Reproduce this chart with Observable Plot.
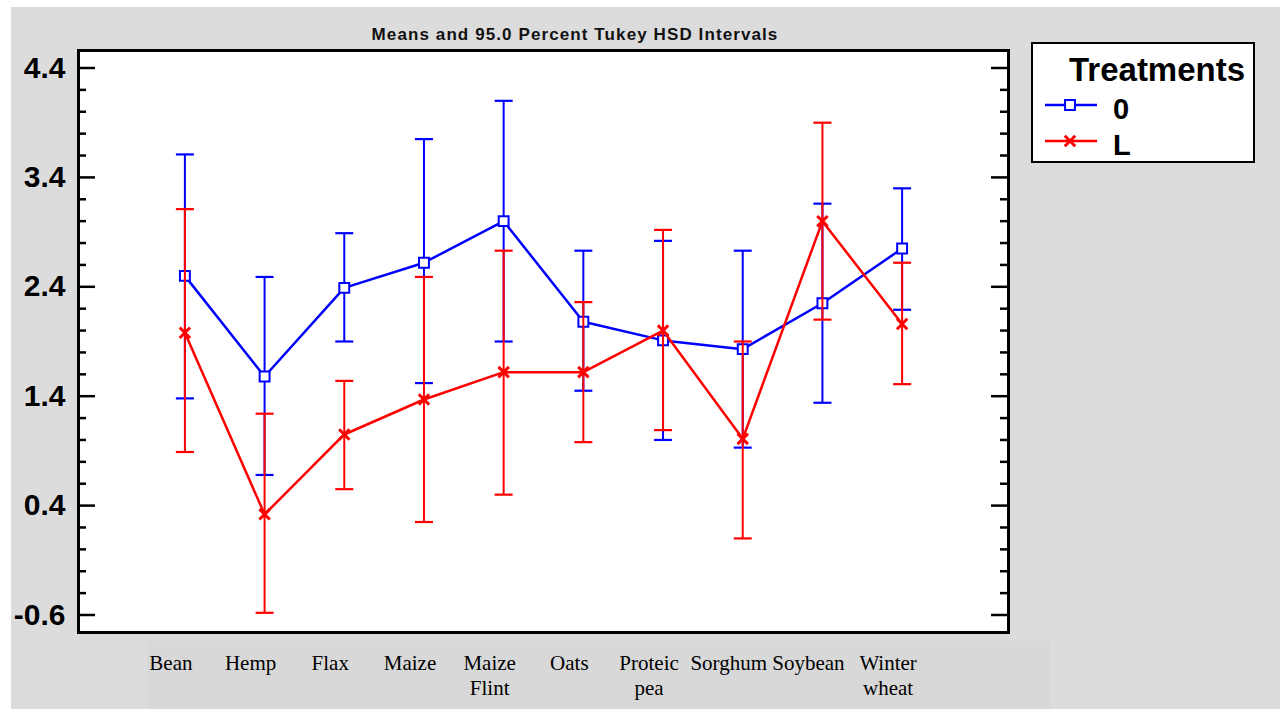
<!DOCTYPE html>
<html>
<head>
<meta charset="utf-8">
<script src="https://cdn.jsdelivr.net/npm/d3@7"></script>
<script src="https://cdn.jsdelivr.net/npm/@observablehq/plot@0.6"></script>
<style>
  body { margin: 0; background: #ffffff; }
  #fig { position: relative; width: 1280px; height: 709px; overflow: hidden;
         font-family: "Liberation Sans", Arial, sans-serif; }
  #panel { position: absolute; left: 11px; top: 7px; right: 0; bottom: 0; background: #dcdcdc; }
  #labelband { position: absolute; left: 147px; top: 641px; width: 903px; height: 68px; background: #d8d8d8; }
  #title { position: absolute; left: 362px; width: 426px; top: 25px; text-align: center;
           font-weight: bold; font-size: 17px; letter-spacing: 1.1px; color: #111; white-space: nowrap; }
  #chart { position: absolute; left: 0; top: 0; }
  #legend { position: absolute; left: 1031px; top: 42px; }
</style>
</head>
<body>
<div id="fig">
  <div id="panel"></div>
  <div id="labelband"></div>
  <div id="title"></div>
  <div id="chart"></div>
  <svg id="legend" width="225" height="123"></svg>
</div>
<script>
// Crop categories and treatment groups
const categories = ["Bean", "Hemp", "Flax", "Maize", "Maize Flint", "Oats",
                    "Proteic pea", "Sorghum", "Soybean", "Winter wheat"];
const treatments = ["0", "L"];

// Treatment 0: means and 95% Tukey HSD interval bounds
const mean0  = [2.50, 1.58, 2.39, 2.62, 3.00, 2.08, 1.91, 1.83, 2.25, 2.75];
const lower0 = [1.38, 0.68, 1.90, 1.52, 1.90, 1.45, 1.00, 0.93, 1.34, 2.19];
const upper0 = [3.61, 2.49, 2.89, 3.75, 4.10, 2.73, 2.82, 2.73, 3.16, 3.30];

// Treatment L: means and 95% Tukey HSD interval bounds
const meanL  = [1.98, 0.32, 1.05, 1.37, 1.62, 1.62, 2.00, 1.01, 3.00, 2.06];
const lowerL = [0.89, -0.58, 0.55, 0.25, 0.50, 0.98, 1.09, 0.10, 2.10, 1.51];
const upperL = [3.11, 1.24, 1.54, 2.49, 2.73, 2.26, 2.92, 1.90, 3.90, 2.62];

// Axis ticks
const yMajorTicks = [-0.6, 0.4, 1.4, 2.4, 3.4, 4.4];
const yTickLabels = ["-0.6", "0.4", "1.4", "2.4", "3.4", "4.4"];

const titleText = "Means and 95.0 Percent Tukey HSD Intervals";
const legendTitle = "Treatments";

const seriesColor = {"0": "#0000ff", "L": "#ff0000"};
const seriesSymbol = {"0": "square2", "L": "times"};

const series = {
  "0": categories.map((c, i) => ({cat: c, trt: "0", mean: mean0[i], lo: lower0[i], hi: upper0[i]})),
  "L": categories.map((c, i) => ({cat: c, trt: "L", mean: meanL[i], lo: lowerL[i], hi: upperL[i]}))
};

// minor ticks every 0.2 between the labelled ones
const yMinorTicks = d3.range(-0.6, 4.41, 0.2)
  .map(v => Math.round(v * 10) / 10)
  .filter(v => !yMajorTicks.some(t => Math.abs(t - v) < 1e-9));

const W = 1280, H = 709;
const mL = 78, mR = 272, mT = 50, mB = 77;
const plotW = W - mL - mR;

// horizontal cap for the interval whiskers
const capSymbol = {
  draw(ctx, size) {
    const w = Math.sqrt(size / Math.PI);
    ctx.moveTo(-w, 0);
    ctx.lineTo(w, 0);
  }
};

const seriesMarks = treatments.flatMap(t => {
  const data = series[t];
  const color = seriesColor[t];
  return [
    Plot.ruleX(data, {x: "cat", y1: "lo", y2: "hi", stroke: color, strokeWidth: 2}),
    Plot.dot(data, {x: "cat", y: "hi", symbol: capSymbol, r: 9, stroke: color, strokeWidth: 2.2}),
    Plot.dot(data, {x: "cat", y: "lo", symbol: capSymbol, r: 9, stroke: color, strokeWidth: 2.2}),
    Plot.line(data, {x: "cat", y: "mean", stroke: color, strokeWidth: 2.5}),
    Plot.dot(data, {x: "cat", y: "mean", symbol: seriesSymbol[t], r: t === "0" ? 6.3 : 4.8,
                    fill: t === "0" ? "white" : "none", stroke: color, strokeWidth: t === "0" ? 2 : 3})
  ];
});

const tickMarks = [
  [yMinorTicks, 8],
  [yMajorTicks, 17]
].flatMap(([vals, len]) => [
  Plot.tickY(vals, {y: d => d, insetRight: plotW - len, stroke: "black", strokeWidth: 2.5}),
  Plot.tickY(vals, {y: d => d, insetLeft: plotW - len, stroke: "black", strokeWidth: 2.5})
]);

const chart = Plot.plot({
  width: W,
  height: H,
  marginLeft: mL,
  marginRight: mR,
  marginTop: mT,
  marginBottom: mB,
  style: {background: "transparent", color: "black", fontFamily: "'Liberation Sans', Arial, sans-serif", overflow: "visible"},
  x: {type: "point", domain: categories, padding: 1.335, round: false, axis: null},
  y: {domain: [-0.76, 4.56], label: null},
  marks: [
    Plot.frame({fill: "white"}),
    ...tickMarks,
    ...seriesMarks,
    Plot.frame({stroke: "black", strokeWidth: 3}),
    Plot.axisY({
      ticks: yMajorTicks,
      tickSize: 0,
      tickPadding: 13,
      fontSize: 30,
      fontWeight: "bold",
      tickFormat: d => yTickLabels[yMajorTicks.indexOf(d)]
    }),
    Plot.text(categories, {
      x: d => d,
      text: d => d.replace(" ", "\n"),
      frameAnchor: "bottom",
      lineAnchor: "top",
      dy: 20,
      dx: -14,
      fontFamily: "'Liberation Serif', 'Times New Roman', serif",
      fontSize: 21,
      lineHeight: 1.19,
      fill: "black"
    })
  ]
});
document.getElementById("chart").appendChild(chart);
document.getElementById("title").textContent = titleText;

// Legend: boxed list of treatments with line + symbol swatches
const lg = d3.select("#legend");
lg.append("rect").attr("x", 1).attr("y", 1).attr("width", 222).attr("height", 119)
  .attr("fill", "white").attr("stroke", "black").attr("stroke-width", 2);
lg.append("text").attr("x", 38).attr("y", 39).text(legendTitle)
  .attr("font-family", "'Liberation Sans', Arial, sans-serif")
  .attr("font-size", 33).attr("font-weight", "bold").attr("fill", "black");
treatments.forEach((t, i) => {
  const cy = 63 + i * 36;
  const color = seriesColor[t];
  lg.append("line").attr("x1", 14).attr("x2", 66).attr("y1", cy).attr("y2", cy)
    .attr("stroke", color).attr("stroke-width", 2.5);
  const sym = t === "0" ? d3.symbolSquare2 : d3.symbolTimes;
  const r = t === "0" ? 6.3 : 4.8;
  lg.append("path").attr("transform", `translate(39,${cy})`)
    .attr("d", d3.symbol(sym, Math.PI * r * r)())
    .attr("fill", t === "0" ? "white" : "none").attr("stroke", color)
    .attr("stroke-width", t === "0" ? 2 : 3);
  lg.append("text").attr("x", 82).attr("y", cy + 14).text(t)
    .attr("font-family", "'Liberation Sans', Arial, sans-serif")
    .attr("font-size", 29).attr("font-weight", "bold").attr("fill", "black");
});
</script>
</body>
</html>
